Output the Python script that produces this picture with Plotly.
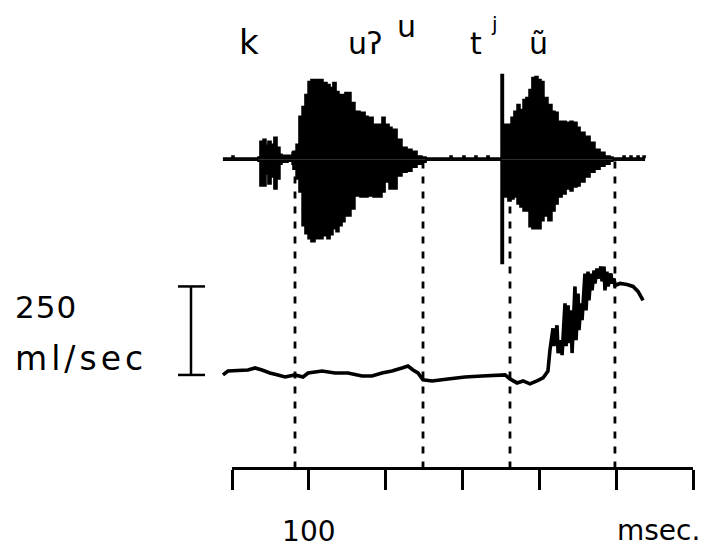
import plotly.graph_objects as go

# ---------------- data ----------------
# Audio waveform: time (ms), positive and negative peak envelope (relative units)
WAVE_MS = [44.1, 48.7, 50.0, 51.3, 58.5, 66.9, 68.2, 70.2, 72.1, 73.4,
           75.4, 77.3, 79.3, 81.2, 82.5, 86.4, 89.1, 89.7, 91.7, 93.6,
           95.6, 97.5, 99.5, 101.4, 104.0, 106.6, 109.2, 111.8, 113.8, 115.7,
           117.7, 119.6, 121.6, 123.5, 125.5, 127.4, 130.0, 133.3, 136.6, 138.5,
           141.8, 144.4, 147.6, 149.6, 152.2, 154.1, 157.4, 160.6, 163.9, 167.1,
           170.4, 173.6, 176.3, 191.2, 191.9, 193.2, 199.7, 200.3, 201.6, 207.5,
           208.1, 209.4, 215.3, 215.9, 217.3, 223.1, 225.1, 226.6, 229.6, 231.6,
           233.5, 235.5, 237.4, 239.4, 241.3, 243.3, 245.2, 247.2, 249.1, 251.1,
           253.0, 255.6, 258.2, 260.2, 262.2, 264.8, 267.4, 270.0, 271.9, 274.5,
           276.5, 279.7, 283.0, 286.2, 289.5, 292.7, 296.0, 297.9, 303.8, 304.5,
           305.8, 308.4, 309.0, 310.3, 312.9, 313.6, 314.9, 316.8, 317.5, 318.8]
WAVE_HI = [0.01, 0.01, 0.03, 0.01, 0.01, 0.02, 0.18, 0.20, 0.14, 0.18,
           0.15, 0.22, 0.12, 0.05, 0.04, 0.04, 0.07, 0.08, 0.15, 0.43,
           0.53, 0.65, 0.78, 0.80, 0.80, 0.80, 0.77, 0.75, 0.72, 0.77,
           0.68, 0.65, 0.65, 0.67, 0.67, 0.57, 0.48, 0.47, 0.43, 0.42,
           0.35, 0.35, 0.42, 0.35, 0.32, 0.30, 0.20, 0.12, 0.10, 0.08,
           0.03, 0.02, 0.01, 0.01, 0.03, 0.01, 0.01, 0.03, 0.01, 0.01,
           0.03, 0.01, 0.01, 0.03, 0.01, 0.01, 0.85, 0.35, 0.35, 0.42,
           0.48, 0.55, 0.50, 0.60, 0.62, 0.70, 0.82, 0.83, 0.80, 0.78,
           0.62, 0.55, 0.48, 0.47, 0.38, 0.38, 0.37, 0.38, 0.37, 0.32,
           0.27, 0.23, 0.17, 0.10, 0.07, 0.03, 0.02, 0.01, 0.01, 0.03,
           0.01, 0.01, 0.03, 0.01, 0.01, 0.03, 0.01, 0.01, 0.03, 0.01]
WAVE_LO = [-0.01, -0.01, -0.01, -0.01, -0.01, -0.02, -0.27, -0.27, -0.15, -0.25,
           -0.18, -0.30, -0.20, -0.05, -0.03, -0.02, -0.05, -0.10, -0.20, -0.33,
           -0.67, -0.75, -0.80, -0.83, -0.80, -0.80, -0.77, -0.80, -0.76, -0.70,
           -0.73, -0.67, -0.63, -0.57, -0.57, -0.50, -0.37, -0.38, -0.38, -0.37,
           -0.38, -0.38, -0.33, -0.23, -0.30, -0.30, -0.17, -0.13, -0.12, -0.08,
           -0.05, -0.03, -0.01, -0.01, -0.01, -0.01, -0.01, -0.01, -0.01, -0.01,
           -0.01, -0.01, -0.01, -0.01, -0.01, -0.01, -1.05, -0.38, -0.42, -0.40,
           -0.38, -0.45, -0.48, -0.52, -0.52, -0.68, -0.70, -0.70, -0.70, -0.62,
           -0.57, -0.62, -0.52, -0.45, -0.38, -0.35, -0.30, -0.32, -0.28, -0.27,
           -0.23, -0.18, -0.13, -0.10, -0.07, -0.05, -0.02, -0.01, -0.01, -0.01,
           -0.01, -0.01, -0.01, -0.01, -0.01, -0.01, -0.01, -0.01, -0.01, -0.01]

# Oral airflow: time (ms), flow (ml/sec, relative to the resting level)
FLOW_MS = [44.1, 47.4, 60.4, 65.0, 69.5, 74.7, 79.9, 84.5, 91.0, 96.2,
           99.5, 108.6, 117.0, 125.5, 134.6, 141.1, 147.6, 154.1, 160.6, 164.5,
           167.8, 171.0, 174.3, 180.2, 190.6, 201.6, 212.7, 223.1, 227.7, 230.9,
           235.5, 239.4, 243.9, 248.5, 252.4, 255.6, 256.9, 258.9, 259.5, 261.5,
           262.2, 264.1, 264.8, 266.7, 267.4, 268.7, 269.3, 270.6, 271.3, 273.2,
           273.9, 275.2, 275.8, 277.1, 277.8, 279.7, 280.4, 281.7, 282.3, 283.6,
           284.3, 285.6, 286.2, 287.5, 288.2, 290.1, 290.8, 292.1, 292.7, 294.0,
           294.7, 296.6, 297.3, 298.6, 299.2, 302.5, 307.0, 311.0, 314.2, 317.5]
FLOW_ML = [0.0, 11.2, 14.0, 19.7, 14.0, 5.6, 0.0, -5.6, 0.0, -5.6,
           5.6, 11.2, 5.6, 5.6, -2.8, -2.8, 5.6, 11.2, 19.7, 25.3,
           14.0, 5.6, -14.0, -16.9, -11.2, -5.6, -2.8, 0.0, 0.0, -11.2,
           -22.5, -16.9, -25.3, -16.9, -8.4, 11.2, 70.2, 132.0, 81.5, 140.4,
           61.8, 98.3, 56.2, 202.2, 81.5, 196.6, 89.9, 182.6, 61.8, 250.0,
           98.3, 230.3, 126.4, 202.2, 154.5, 286.5, 182.6, 292.1, 210.7, 286.5,
           238.8, 294.9, 258.4, 300.6, 272.5, 306.2, 264.0, 306.2, 238.8, 292.1,
           250.0, 286.5, 258.4, 272.5, 252.8, 258.4, 255.6, 250.0, 236.0, 210.7]

# Segment boundaries (ms)
SEGMENT_MS = [91.0, 174.3, 230.9, 299.2]

# Time axis
TICK_MS = [50, 100, 150, 200, 250, 300, 350]
TICK_TEXT = ["", "100", "", "", "", "", ""]

# Calibration bar (ml/sec)
SCALE_ML = 250

# ---------------- layout geometry ----------------
# positions below are given in page pixels; the page body adds an 8 px margin
OFF = 8
PAGE_W, PAGE_H = 707, 548
W, H = PAGE_W - OFF, PAGE_H - OFF
PX_PER_MS = (693 - 232) / 300.0
X0_PX, X0_MS = 232, 50.0


def px2ms(px):
    return X0_MS + (px - X0_PX) / PX_PER_MS


def pxx(px):  # page x -> paper x
    return (px - OFF) / W


def py(pix):  # page y -> paper y
    return 1 - (pix - OFF) / H


FONT = "DejaVu Sans"
BLACK = "#000000"
CLEAR = "rgba(0,0,0,0)"

fig = go.Figure()

# dashed segment boundaries (drawn under the traces)
for t in SEGMENT_MS:
    fig.add_shape(type="line", xref="x", yref="paper",
                  x0=t, x1=t, y0=py(471), y1=py(162),
                  line=dict(color=BLACK, width=2.8, dash="7px,8px"),
                  layer="below")

# waveform: positive and negative peak envelopes
for vals in (WAVE_HI, WAVE_LO):
    fig.add_trace(go.Scatter(
        x=WAVE_MS, y=vals, mode="lines",
        line=dict(color=BLACK, width=1.6, shape="hv"),
        fill="tozeroy", fillcolor=BLACK,
        xaxis="x", yaxis="y", hoverinfo="skip", showlegend=False))

# airflow trace
fig.add_trace(go.Scatter(
    x=FLOW_MS, y=FLOW_ML, mode="lines",
    line=dict(color=BLACK, width=3.6),
    xaxis="x", yaxis="y2", hoverinfo="skip", showlegend=False))

# calibration bar
bx, bl, br = px2ms(191), px2ms(178), px2ms(205)
fig.add_trace(go.Scatter(
    x=[bl, br, None, bx, bx, None, bl, br],
    y=[SCALE_ML, SCALE_ML, None, 0, SCALE_ML, None, 0, 0],
    mode="lines", line=dict(color=BLACK, width=2.5),
    xaxis="x", yaxis="y2", hoverinfo="skip", showlegend=False))

# invisible trace to anchor the time axis
fig.add_trace(go.Scatter(
    x=TICK_MS, y=[None] * len(TICK_MS), mode="lines",
    xaxis="x2", yaxis="y", hoverinfo="skip", showlegend=False))

amp_per_px = 0.01              # waveform: 0 at page row 160, 100 px per unit
flow_per_px = SCALE_ML / 89.0  # airflow: 0 at page row 377

fig.update_layout(
    width=W, height=H,
    margin=dict(l=0, r=0, t=0, b=0),
    paper_bgcolor="white", plot_bgcolor=CLEAR,
    showlegend=False,
    xaxis=dict(domain=[0, 1], range=[px2ms(OFF), px2ms(PAGE_W)], visible=False),
    yaxis=dict(domain=[0, 1],
               range=[-(PAGE_H - 160) * amp_per_px, (160 - OFF) * amp_per_px],
               visible=False),
    yaxis2=dict(domain=[0, 1], overlaying="y",
                range=[-(PAGE_H - 377) * flow_per_px, (377 - OFF) * flow_per_px],
                visible=False),
    xaxis2=dict(domain=[pxx(232), pxx(693)], range=[50, 350], anchor="free",
                position=py(471), showline=True, linecolor=BLACK, linewidth=3,
                ticks="outside", ticklen=20, tickwidth=3, tickcolor=BLACK,
                tickvals=TICK_MS, ticktext=TICK_TEXT, showgrid=False,
                zeroline=False, ticklabelstandoff=17,
                tickfont=dict(family=FONT, size=28, color=BLACK)),
)


def label(text, x_px, base_px, size, anchor="left", spacing=None):
    if spacing:
        text = '<span style="letter-spacing:%spx">%s</span>' % (spacing, text)
    fig.add_annotation(text=text, xref="paper", yref="paper",
                       x=pxx(x_px), y=py(base_px - 0.35 * size),
                       xanchor=anchor, yanchor="middle", showarrow=False,
                       font=dict(family=FONT, size=size, color=BLACK))


# phonetic labels
label("k", 249, 54, 34, "center")
label("uʔ", 346, 54, 30)
label("u", 395, 37, 30)
label("t", 468, 54, 30)
label("j", 489, 31, 20)
label("ũ", 538, 54, 30, "center")

# calibration labels
label("250", 13, 320, 31, spacing=1)
label("ml/sec", 13, 372, 33, spacing=4)

# time unit
label("msec.", 702, 543, 28, "right")

fig.write_html("out.html")
